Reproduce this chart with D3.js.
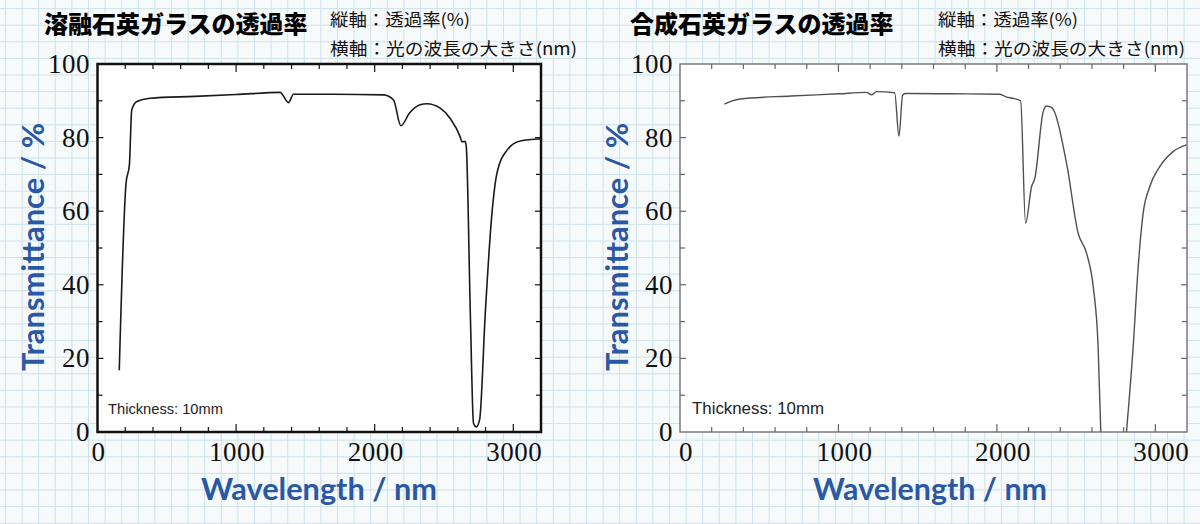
<!DOCTYPE html>
<html><head><meta charset="utf-8">
<script src="https://cdn.jsdelivr.net/npm/d3@7"></script>
<style>body{margin:0;background:#f7fafb;} svg{display:block}</style>
</head><body><svg id="c" width="1200" height="524"></svg>
<script>
// ---------- data ----------
const fusedWavelength = [157,206,230,247,283,379,700,1000,1318,1378,1414,1700,2064,2136,2189,2250,2328,2377,2473,2545,2617,2629,2653,2661,2690,2713,2733,2757,2798,2846,2882,2955,3051,3195];
const fusedTransmittance = [16.8,67.6,72.6,87.5,89.8,90.7,91.2,91.7,92.3,89.5,91.8,91.8,91.6,90.2,83.2,86.6,88.9,89.2,88.0,85.2,80.2,78.9,78.9,77.5,32.3,2.4,1.4,3.3,32.3,59.4,70.3,76.6,79.1,79.6];

const synthWavelength = [280,330,379,700,1000,1178,1209,1241,1355,1382,1405,1420,1700,2019,2061,2100,2150,2181,2219,2240,2292,2314,2345,2440,2513,2566,2608,2639,2656,2740,2818,2860,2892,2923,2965,3028,3112,3197];
const synthTransmittance = [89.1,90.0,90.5,91.3,91.9,92.3,91.6,92.5,92.2,80.4,91.5,92.0,91.9,91.8,91.0,90.7,90.0,56.7,66.7,69.0,87.0,88.6,88.2,73.0,54.0,48.6,39.5,23.2,0,null,0,23.0,44.9,59.4,66.7,72.1,76.2,78.0];

const xTickLabels = [0,1000,2000,3000];
const yTickLabels = [0,20,40,60,80,100];
const xMinorTicks = d3.range(0, 3201, 200);
const yMinorTicks = d3.range(0, 101, 10);

const titles = ["溶融石英ガラスの透過率","合成石英ガラスの透過率"];
const subVertical = "縦軸：透過率(%)";
const subHorizontal = "横軸：光の波長の大きさ(nm)";

// ---------- drawing ----------
const svg = d3.select("#c");
const W = 1200, H = 524;

// graph-paper background
const grid = svg.append("g");
grid.append("rect").attr("width",W).attr("height",H).attr("fill","#f7fafb");
d3.range(5.5, W, 16.6).forEach(x => grid.append("line").attr("x1",x).attr("x2",x).attr("y1",0).attr("y2",H).attr("stroke","#cde2ea").attr("stroke-width",1));
d3.range(8.6, H, 16.6).forEach(y => grid.append("line").attr("y1",y).attr("y2",y).attr("x1",0).attr("x2",W).attr("stroke","#cde2ea").attr("stroke-width",1));

const panels = [
  {x0:97.5, x1:541, wl:fusedWavelength, t:fusedTransmittance, frame:"#111", fw:2.5, line:"#1a1a1a", lw:1.6,
   tickCol:"#111", title:titles[0], tx:44, sx:330, ylabEnd:90, xlabDx:1, thick:{x:108,len:115,fs:15},
   ytitleX:34, xtitleX:319, xtitleLen:236},
  {x0:680, x1:1187, wl:synthWavelength, t:synthTransmittance, frame:"#666", fw:1.3, line:"#505050", lw:1.4,
   tickCol:"#666", title:titles[1], tx:630, sx:938, ylabEnd:673, xlabDx:6, thick:{x:692,len:132,fs:16},
   ytitleX:618, xtitleX:930, xtitleLen:234}
];
const yTop = 64, yBot = 432;

panels.forEach((p,i) => {
  const x = d3.scaleLinear().domain([0,3200]).range([p.x0,p.x1]);
  const y = d3.scaleLinear().domain([0,100]).range([yBot,yTop]);
  const g = svg.append("g");
  g.append("rect").attr("x",p.x0).attr("y",yTop).attr("width",p.x1-p.x0).attr("height",yBot-yTop).attr("fill","#fff");

  // inward ticks on all sides
  const tg = g.append("g").attr("stroke",p.tickCol).attr("stroke-width",1.2);
  xMinorTicks.filter(v=>v>0&&v<3200).forEach(v=>{
    const L = v%1000===0 ? 8 : 5;
    tg.append("line").attr("x1",x(v)).attr("x2",x(v)).attr("y1",yBot).attr("y2",yBot-L);
    tg.append("line").attr("x1",x(v)).attr("x2",x(v)).attr("y1",yTop).attr("y2",yTop+L);
  });
  yMinorTicks.filter(v=>v>0&&v<100).forEach(v=>{
    const L = v%20===0 ? 6 : 5;
    tg.append("line").attr("x1",p.x0).attr("x2",p.x0+L).attr("y1",y(v)).attr("y2",y(v));
    tg.append("line").attr("x1",p.x1).attr("x2",p.x1-L).attr("y1",y(v)).attr("y2",y(v));
  });

  // curve
  const pts = p.wl.map((w,k)=>[w,p.t[k]]);
  const line = d3.line().defined(d=>d[1]!==null).x(d=>x(d[0])).y(d=>y(d[1])).curve(d3.curveMonotoneX);
  g.append("path").datum(pts).attr("d",line).attr("fill","none").attr("stroke",p.line).attr("stroke-width",p.lw).attr("stroke-linejoin","round");

  // frame
  g.append("rect").attr("x",p.x0).attr("y",yTop).attr("width",p.x1-p.x0).attr("height",yBot-yTop).attr("fill","none").attr("stroke",p.frame).attr("stroke-width",p.fw);

  // tick labels
  const lab = g.append("g").attr("font-family","'Liberation Serif','Times New Roman',serif").attr("font-size",27).attr("fill","#111");
  yTickLabels.forEach(v=>{
    lab.append("text").attr("x",p.ylabEnd).attr("y",y(v)+9).attr("text-anchor","end").attr("letter-spacing",0.5).text(v);
  });
  xTickLabels.forEach(v=>{
    lab.append("text").attr("x",x(v)+p.xlabDx).attr("y",461).attr("text-anchor","middle").attr("letter-spacing",0.5).text(v);
  });

  // axis titles
  g.append("text").attr("transform",`translate(${p.ytitleX+10},247) rotate(-90)`).attr("text-anchor","middle")
    .attr("font-family","Lato,'Open Sans',sans-serif").attr("font-weight",700).attr("font-size",30).attr("fill","#2a58a5")
    .attr("textLength",248).attr("lengthAdjust","spacingAndGlyphs").text("Transmittance / %");
  g.append("text").attr("x",p.xtitleX).attr("y",500).attr("text-anchor","middle")
    .attr("font-family","Lato,'Open Sans',sans-serif").attr("font-weight",700).attr("font-size",31).attr("fill","#2a58a5")
    .attr("textLength",p.xtitleLen).attr("lengthAdjust","spacingAndGlyphs").text("Wavelength / nm");

  // thickness note
  g.append("text").attr("x",p.thick.x).attr("y",414).attr("font-family","'Liberation Sans',Arial,sans-serif")
    .attr("font-size",p.thick.fs).attr("fill","#222").attr("textLength",p.thick.len).attr("lengthAdjust","spacingAndGlyphs").text("Thickness: 10mm");

  // titles
  svg.append("text").attr("x",p.tx).attr("y",33).attr("font-family","'Noto Sans CJK JP',sans-serif").attr("font-weight",900)
    .attr("font-size",24).attr("fill","#000").text(p.title);
  svg.append("text").attr("x",p.sx).attr("y",26).attr("font-family","'Noto Sans CJK JP',sans-serif")
    .attr("font-size",17).attr("fill","#111").attr("textLength",140).attr("lengthAdjust","spacingAndGlyphs").text(subVertical);
  svg.append("text").attr("x",p.sx).attr("y",55).attr("font-family","'Noto Sans CJK JP',sans-serif")
    .attr("font-size",17).attr("fill","#111").attr("textLength",247).attr("lengthAdjust","spacingAndGlyphs").text(subHorizontal);
});
</script></body></html>
